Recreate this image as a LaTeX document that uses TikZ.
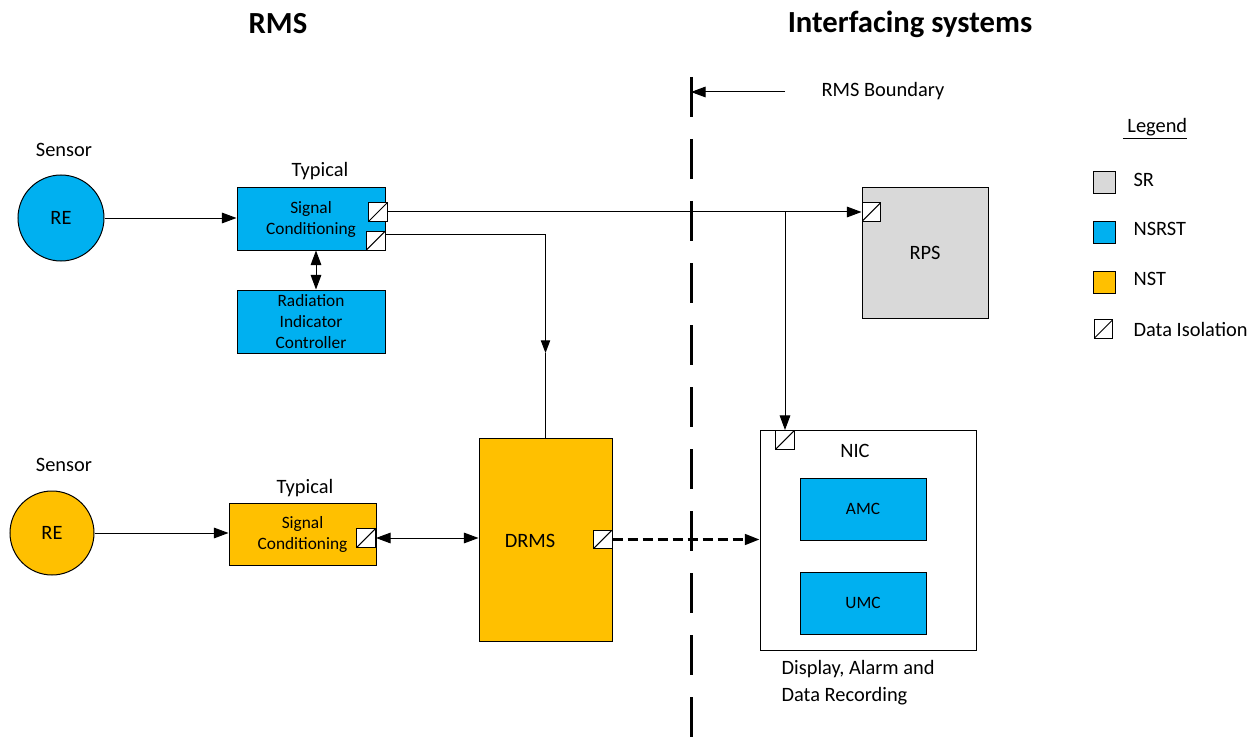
\documentclass[tikz,border=0pt]{standalone}
\usepackage{fontspec}
\setmainfont{Carlito}
\usetikzlibrary{positioning, arrows.meta}
\definecolor{nsrstfill}{HTML}{00B0F0}
\definecolor{nstfill}{HTML}{FFC000}
\definecolor{srfill}{HTML}{D9D9D9}

\begin{document}
\begin{tikzpicture}[
  x=0.75pt, y=-0.75pt,
  every node/.style={align=center, text=black},
  lbl/.style={font=\fontsize{15.3}{20}\selectfont, inner sep=1pt},
  title/.style={font=\fontsize{23}{28}\selectfont\bfseries},
  unit/.style={
    rectangle, draw=black, line width=0.75pt,
    inner sep=1pt,
    font=\fontsize{13}{15.75}\selectfont
  },
  nsrst/.style={unit, fill=nsrstfill},
  nst/.style={unit, fill=nstfill},
  sr/.style={unit, fill=srfill},
  plainbox/.style={unit, fill=white},
  sensor/.style={
    circle, draw=black, line width=0.75pt,
    minimum size=64.5pt, inner sep=0pt,
    font=\fontsize{15.3}{18}\selectfont
  },
  iso/.style={
    rectangle, draw=black, fill=white, line width=0.75pt,
    minimum size=14pt, inner sep=0pt,
    path picture={\draw[line width=0.75pt] (path picture bounding box.south west)
      -- (path picture bounding box.north east);}
  },
  legbox/.style={rectangle, draw=black, line width=0.75pt, minimum size=16.5pt, inner sep=0pt},
  arrow/.style={-{Triangle[length=11pt, width=8pt]}, line width=0.75pt, color=black},
  smallarrow/.style={-{Triangle[length=9.5pt, width=7pt]}, line width=0.75pt, color=black},
  biarrow/.style={{Triangle[length=11pt, width=8pt]}-{Triangle[length=11pt, width=8pt]}, line width=0.75pt},
  netarrow/.style={arrow, line width=2pt, dash pattern=on 7.5pt off 3.75pt},
  boundary/.style={line width=2.25pt, dash pattern=on 30pt off 16.5pt}
]
\useasboundingbox (0,0) rectangle (1260,738);

% =============================================================================
% Titles and the RMS boundary (units = px of the 1260 x 738 frame)
% =============================================================================
\node[title] (rmstitle) at (278,24) {RMS};
\node[title] (iftitle) at (910,24) {Interfacing systems};

\coordinate (bdrytop) at (691,77);
\coordinate (bdrybot) at (691,738);
\draw[boundary] (bdrytop) -- (bdrybot);
\node[lbl, anchor=west] (bdrylbl) at (820,91) {RMS Boundary};
\coordinate (bdrytail) at (785,92);
\draw[arrow] (bdrytail) -- (bdrytail -| bdrytop);

% --- Row 1: blue sensor chain
\node[lbl] (sensora) at (64,150) {Sensor};
\node[sensor, fill=nsrstfill] (rea) at (61,218) {RE};
\node[lbl] (typa) at (320,171) {Typical};
\node[nsrst, minimum width=111pt, minimum height=46.5pt] (sca) at (311,219) {Signal\\Conditioning};
\node[iso] (isoa1) at (378,212) {};
\node[iso, anchor=south east] (isoa2) at (sca.south east) {};
\node[nsrst, minimum width=111pt, minimum height=47.25pt] (ric) at (311,321.5) {Radiation\\Indicator\\Controller};

% --- RPS
\node[sr, lbl, minimum width=94.5pt, minimum height=97.5pt] (rps) at (925,253) {RPS};
\node[iso, anchor=west] (isorps) at (rps.west |- isoa1.east) {};

% --- Row 2: orange sensor chain
\node[lbl] (sensorb) at (64,465) {Sensor};
\node[sensor, fill=nstfill, minimum size=63pt] (reb) at (52,533) {RE};
\node[lbl] (typb) at (305,488) {Typical};
\node[nst, minimum width=110.25pt, minimum height=46.5pt] (scb) at (302.5,534) {Signal\\Conditioning};
\node[iso, anchor=east] (isob) at (376,538) {};

\node[nst, minimum width=99.75pt, minimum height=152.25pt] (drms) at (545.5,539.5) {};
\node[lbl] (drmslbl) at (530,541) {DRMS};
\node[iso, anchor=east] (isodrms) at (drms.east) {};

% --- NIC with AMC / UMC
\node[plainbox, minimum width=162pt, minimum height=165pt] (nic) at (868,540) {};
\node[lbl] (niclbl) at (855,451) {NIC};
\node[iso, anchor=north] (isonic) at (785,430) {};
\node[nsrst, minimum width=94.5pt, minimum height=46.5pt] (amc) at (863,509) {AMC};
\node[nsrst, minimum width=94.5pt, minimum height=46.5pt] (umc) at (863,603) {UMC};
\node[lbl, anchor=base west, align=left] (disp) at (780,701) {Display, Alarm and\\Data Recording};

% =============================================================================
% Arrows
% =============================================================================
\draw[arrow] (rea.east) -- (rea.east -| sca.west);
\draw[arrow] (isoa1.east) -- (isorps.west);
\coordinate (tap) at (isonic.north |- isoa1.east);
\draw[arrow] (tap) -- (isonic.north);
\draw[biarrow] ([xshift=3.75pt]sca.south) -- ([xshift=3.75pt]ric.north);

\coordinate (bend) at (drms.north |- 0,234);
\coordinate (midarr) at (drms.north |- 0,353);
\draw[smallarrow] ([yshift=5pt]isoa2.east) -- (bend) -- (midarr);
\draw[line width=0.75pt] (midarr) -- (drms.north);

\draw[arrow] (reb.east) -- (reb.east -| scb.west);
\draw[biarrow] (isob.east) -- (isob.east -| drms.west);
\draw[netarrow] (isodrms.east) -- (isodrms.east -| nic.west);

% =============================================================================
% Legend
% =============================================================================
\node[lbl] (legtitle) at (1155,129) {\underline{\ Legend}};
\node[legbox, fill=srfill] (legsr) at (1104,183) {};
\node[lbl, anchor=west] (legsrlbl) at (1132,180) {SR};
\node[legbox, fill=nsrstfill] (legnsrst) at (1104,232.5) {};
\node[lbl, anchor=west] (legnsrstlbl) at (1132,229) {NSRST};
\node[legbox, fill=nstfill] (legnst) at (1104,282.5) {};
\node[lbl, anchor=west] (legnstlbl) at (1132,279) {NST};
\node[iso] (legiso) at (1103.5,329) {};
\node[lbl, anchor=west] (legisolbl) at (1132,329) {Data Isolation};

\end{tikzpicture}
\end{document}
